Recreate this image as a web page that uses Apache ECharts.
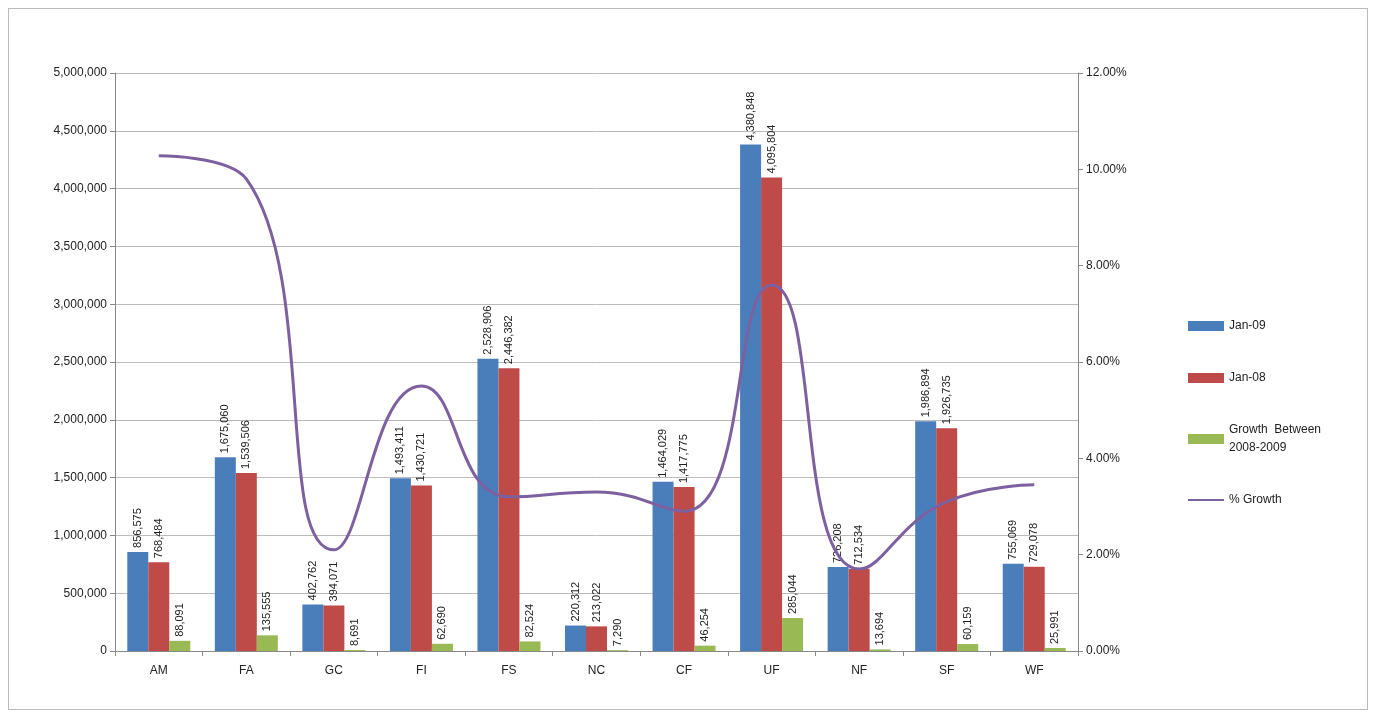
<!DOCTYPE html>
<html>
<head>
<meta charset="utf-8">
<script src="https://cdn.jsdelivr.net/npm/echarts@6/dist/echarts.min.js"></script>
<style>
html,body{margin:0;padding:0;background:#fff;}
#frame{position:absolute;left:8px;top:8px;width:1360px;height:702px;border:1px solid #bbb;box-sizing:border-box;}
#main{position:absolute;left:0;top:0;width:1377px;height:715px;}
</style>
</head>
<body>
<div id="frame"></div>
<div id="main"></div>
<script>
var categories = ['AM', 'FA', 'GC', 'FI', 'FS', 'NC', 'CF', 'UF', 'NF', 'SF', 'WF'];
var jan09 = [856575, 1675060, 402762, 1493411, 2528906, 220312, 1464029, 4380848, 726208, 1986894, 755069];
var jan08 = [768484, 1539506, 394071, 1430721, 2446382, 213022, 1417775, 4095804, 712534, 1926735, 729078];
var growth = [88091, 135555, 8691, 62690, 82524, 7290, 46254, 285044, 13694, 60159, 25991];
var pctGrowth = [10.28, 9.8, 2.1, 5.5, 3.2, 3.3, 2.9, 7.6, 1.7, 3.1, 3.45];

var chart = echarts.init(document.getElementById('main'));

function fmt(v) { return v.toLocaleString('en-US'); }

var barLabel = {
    show: true,
    position: 'top',
    rotate: 90,
    align: 'left',
    verticalAlign: 'middle',
    distance: 4,
    fontSize: 11,
    color: '#222',
    fontFamily: 'Liberation Sans',
    formatter: function (p) { return fmt(p.value); }
};

var option = {
    backgroundColor: 'transparent',
    textStyle: { fontFamily: 'Liberation Sans' },
    grid: { left: 115, right: 299, top: 73, bottom: 64 },
    legend: {
        orient: 'vertical',
        left: 1183,
        top: 312,
        itemGap: 34,
        itemWidth: 36,
        itemHeight: 10,
        textStyle: { fontSize: 12, color: '#222', lineHeight: 18 },
        data: [
            { name: 'Jan-09', icon: 'rect' },
            { name: 'Jan-08', icon: 'rect' },
            { name: 'Growth  Between\n2008-2009', icon: 'rect' },
            { name: '% Growth', icon: 'path://M0,4 L36,4 L36,6 L0,6 Z' }
        ]
    },
    xAxis: {
        type: 'category',
        data: categories,
        axisLine: { lineStyle: { color: '#888' } },
        axisTick: { show: true, lineStyle: { color: '#888' } },
        axisLabel: { color: '#222', fontSize: 12, margin: 14 }
    },
    yAxis: [
        {
            type: 'value', min: 0, max: 5000000, interval: 500000,
            axisLine: { show: true, lineStyle: { color: '#888' } },
            axisTick: { show: true },
            splitLine: { lineStyle: { color: '#bbb' } },
            axisLabel: { color: '#222', fontSize: 12, formatter: function (v) { return fmt(v); } }
        },
        {
            type: 'value', min: 0, max: 12, interval: 2,
            axisLine: { show: true, lineStyle: { color: '#888' } },
            axisTick: { show: true },
            splitLine: { show: false },
            axisLabel: { color: '#222', fontSize: 12, formatter: function (v) { return v.toFixed(2) + '%'; } }
        }
    ],
    series: [
        { name: 'Jan-09', type: 'bar', data: jan09, barWidth: 21, barGap: '0%', itemStyle: { color: '#4a7ebb' }, label: barLabel },
        { name: 'Jan-08', type: 'bar', data: jan08, barWidth: 21, itemStyle: { color: '#be4b48' }, label: barLabel },
        { name: 'Growth  Between\n2008-2009', type: 'bar', data: growth, barWidth: 21, itemStyle: { color: '#98b954' }, label: barLabel },
        {
            name: '% Growth', type: 'line', yAxisIndex: 1, data: pctGrowth, smooth: 0.5,
            symbol: 'none', lineStyle: { color: '#7d60a0', width: 3 }, itemStyle: { color: '#7d60a0' }, z: 5
        }
    ]
};
chart.setOption(option);
</script>
</body>
</html>
